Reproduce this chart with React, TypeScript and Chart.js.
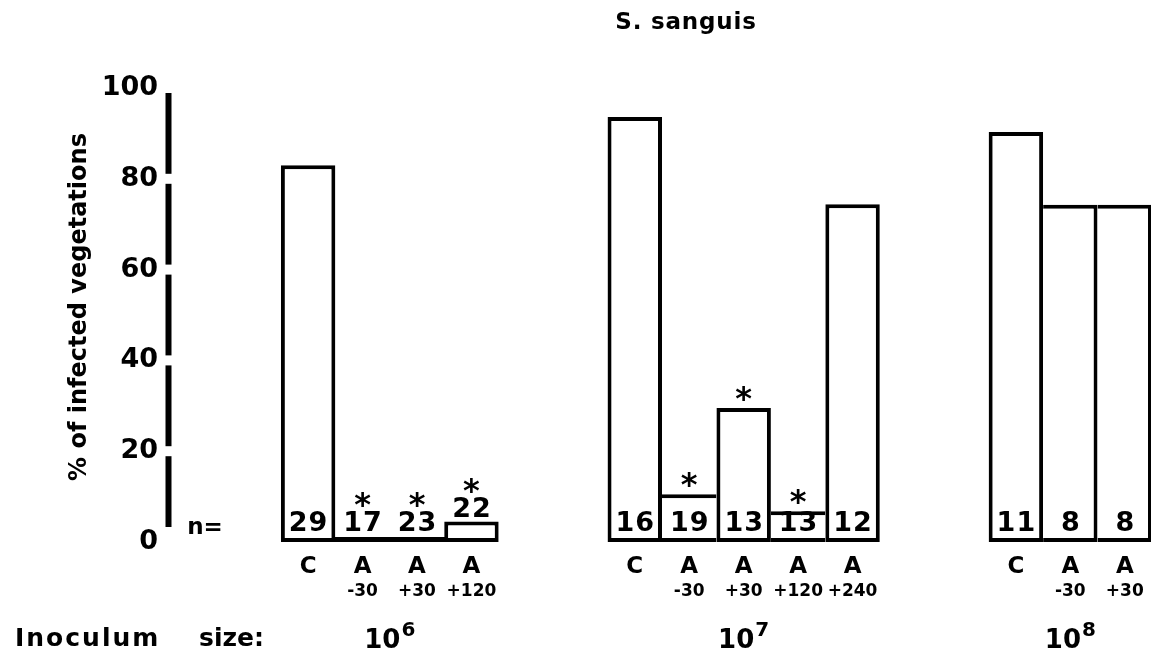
import React, { useEffect, useRef } from "react";
import { Chart, registerables } from "chart.js";

Chart.register(...registerables);

// ---- data ----
const chartTitle = "S. sanguis";
const yAxisTitle = "% of infected vegetations";
const yTickStep = 20;
const inoculumCaption = ["Inoculum", "size:"];
const inoculumBase = ["10", "10", "10"];
const inoculumExp = ["6", "7", "8"];

const g6Treat = ["C", "A", "A", "A"];
const g6Time = ["", "-30", "+30", "+120"];
const g6Values = [83, 0, 0, 4.5];
const g6N = [29, 17, 23, 22];
const g6Sig = [false, true, true, true];

const g7Treat = ["C", "A", "A", "A", "A"];
const g7Time = ["", "-30", "+30", "+120", "+240"];
const g7Values = [93.6, 10.5, 29.5, 6.8, 74.4];
const g7N = [16, 19, 13, 13, 12];
const g7Sig = [false, true, true, true, false];

const g8Treat = ["C", "A", "A"];
const g8Time = ["", "-30", "+30"];
const g8Values = [90.3, 74.3, 74.3];
const g8N = [11, 8, 8];
const g8Sig = [false, false, false];

const leadSlots = 2;
const gapSlots = 2;

type Meta = {
  g: number;
  treat: string;
  time: string;
  n: number;
  sig: boolean;
  first: boolean;
  last: boolean;
} | null;

const groupsData = [
  { treat: g6Treat, time: g6Time, values: g6Values, n: g6N, sig: g6Sig },
  { treat: g7Treat, time: g7Time, values: g7Values, n: g7N, sig: g7Sig },
  { treat: g8Treat, time: g8Time, values: g8Values, n: g8N, sig: g8Sig },
];

const labels: string[] = [];
const values: (number | null)[] = [];
const metas: Meta[] = [];
const groupRanges: [number, number][] = [];
for (let s = 0; s < leadSlots; s++) {
  labels.push("");
  values.push(null);
  metas.push(null);
}
groupsData.forEach((gd, gi) => {
  if (gi > 0) {
    for (let s = 0; s < gapSlots; s++) {
      labels.push("");
      values.push(null);
      metas.push(null);
    }
  }
  const start = labels.length;
  gd.treat.forEach((t, i) => {
    labels.push(`10^${inoculumExp[gi]} ${t}${gd.time[i]}`);
    values.push(gd.values[i]);
    metas.push({
      g: gi,
      treat: t,
      time: gd.time[i],
      n: gd.n[i],
      sig: gd.sig[i],
      first: i === 0,
      last: i === gd.treat.length - 1,
    });
  });
  groupRanges.push([start, labels.length - 1]);
});

const FONT = "'DejaVu Sans', 'Liberation Sans', sans-serif";

const annotate = {
  id: "annotate",
  afterDatasetsDraw(chart: any) {
    const { ctx, chartArea } = chart;
    const xs = chart.scales.x;
    const ys = chart.scales.y;
    const base = ys.getPixelForValue(0);
    const slot = xs.getPixelForValue(1) - xs.getPixelForValue(0);
    ctx.save();
    ctx.fillStyle = "#000";
    ctx.strokeStyle = "#000";

    // segmented y axis line
    ctx.lineWidth = 6;
    const ax = chartArea.left - 3.5;
    for (let v = yTickStep; v <= 100; v += yTickStep) {
      const top = ys.getPixelForValue(v) + 5;
      const bottom = v - yTickStep === 0 ? base - 15 : ys.getPixelForValue(v - yTickStep) - 5;
      ctx.beginPath();
      ctx.moveTo(ax, top);
      ctx.lineTo(ax, bottom);
      ctx.stroke();
    }

    // baseline under zero-height bars
    metas.forEach((m, i) => {
      if (!m) return;
      const v = values[i] as number;
      if (v === 0) {
        const cx = xs.getPixelForValue(i);
        ctx.fillRect(cx - slot / 2 - 1, base - 5, slot + 2, 5);
      }
    });

    // n labels, asterisks, category labels
    metas.forEach((m, i) => {
      if (!m) return;
      const v = values[i] as number;
      const cx = xs.getPixelForValue(i);
      const top = ys.getPixelForValue(v);
      let nCenter = base - 19;
      if (v > 0 && top > base - 25) nCenter = top - 12.5;
      ctx.font = `bold 27px ${FONT}`;
      ctx.textAlign = "center";
      ctx.textBaseline = "middle";
      (ctx as any).letterSpacing = "1px";
      ctx.fillText(String(m.n), cx + 0.5, nCenter + 1);
      (ctx as any).letterSpacing = "0px";
      if (m.sig) {
        const starCenter = Math.min(top, nCenter - 9.5) - 14;
        ctx.font = `bold 32px ${FONT}`;
        ctx.textBaseline = "alphabetic";
        ctx.fillText("*", cx, starCenter + 15);
      }
      ctx.textBaseline = "middle";
      ctx.font = `bold 23px ${FONT}`;
      ctx.fillText(m.treat, cx, 567);
      if (m.time) {
        ctx.font = `bold 17px ${FONT}`;
        ctx.fillText(m.time, cx, 592);
      }
    });

    // "n="
    ctx.font = `bold 23px ${FONT}`;
    ctx.textAlign = "center";
    ctx.textBaseline = "middle";
    ctx.fillText("n=", 205, 528);

    // inoculum caption
    ctx.textAlign = "left";
    ctx.textBaseline = "alphabetic";
    ctx.font = `bold 25px ${FONT}`;
    (ctx as any).letterSpacing = "2px";
    ctx.fillText(inoculumCaption[0], 15, 646);
    (ctx as any).letterSpacing = "0px";
    ctx.fillText(inoculumCaption[1], 199, 646);

    // inoculum sizes
    groupRanges.forEach(([s, e], gi) => {
      const center = (xs.getPixelForValue(s) + xs.getPixelForValue(e)) / 2;
      ctx.font = `bold 26px ${FONT}`;
      const w1 = ctx.measureText(inoculumBase[gi]).width;
      ctx.font = `bold 20px ${FONT}`;
      const w2 = ctx.measureText(inoculumExp[gi]).width;
      const x0 = center - (w1 + w2 + 1) / 2;
      ctx.textAlign = "left";
      ctx.font = `bold 26px ${FONT}`;
      ctx.fillText(inoculumBase[gi], x0, 648);
      ctx.font = `bold 20px ${FONT}`;
      ctx.fillText(inoculumExp[gi], x0 + w1 + 1, 636);
    });

    // chart title
    ctx.textAlign = "center";
    ctx.font = `bold 23px ${FONT}`;
    (ctx as any).letterSpacing = "0.8px";
    ctx.fillText(chartTitle, 686, 29);
    (ctx as any).letterSpacing = "0px";

    // y axis title
    ctx.save();
    ctx.translate(80, 307);
    ctx.rotate(-Math.PI / 2);
    ctx.textAlign = "center";
    ctx.textBaseline = "middle";
    ctx.font = `bold 24px ${FONT}`;
    ctx.fillText(yAxisTitle, 0, 0);
    ctx.restore();

    ctx.restore();
  },
};

export default function App() {
  const ref = useRef<HTMLCanvasElement | null>(null);
  useEffect(() => {
    if (!ref.current) return;
    const W = 4;
    const borderFor = (ctx: any) => {
      const i = ctx.dataIndex;
      const m = metas[i];
      const v = values[i] as number;
      let left = W;
      let right = W;
      if (m && !m.first) {
        const pv = values[i - 1] as number;
        if (pv >= v) left = 0;
      }
      if (m && !m.last) {
        const nv = values[i + 1] as number;
        if (nv > v) right = 0;
      }
      return { top: W, bottom: W, left, right };
    };
    const chart = new Chart(ref.current, {
      type: "bar",
      data: {
        labels,
        datasets: [
          {
            data: values,
            backgroundColor: "#ffffff",
            borderColor: "#000000",
            borderWidth: borderFor as any,
            borderSkipped: false,
            inflateAmount: 0,
            barPercentage: 1,
            categoryPercentage: 1,
          },
        ],
      },
      options: {
        responsive: false,
        animation: false,
        devicePixelRatio: 1,
        layout: { padding: { left: 0, right: 8, top: 88, bottom: 112 } },
        plugins: {
          legend: { display: false },
          tooltip: { enabled: false },
          title: { display: false },
        },
        scales: {
          x: {
            type: "category",
            display: false,
            offset: true,
            grid: { display: false },
          },
          y: {
            min: 0,
            max: 100,
            ticks: {
              stepSize: yTickStep,
              padding: 14,
              color: "#000",
              font: { family: FONT, weight: "bold", size: 27 },
            },
            grid: { display: false, drawTicks: false },
            border: { display: false },
            afterFit: (s: any) => {
              s.width = 172;
            },
          },
        },
      } as any,
      plugins: [annotate],
    });
    return () => chart.destroy();
  }, []);
  return (
    <div
      style={{
        position: "absolute",
        left: 0,
        top: 0,
        width: 1151,
        height: 654,
        overflow: "hidden",
        background: "#fff",
      }}
    >
      <canvas ref={ref} width={1160} height={654} style={{ width: 1160, height: 654, display: "block" }} />
    </div>
  );
}
